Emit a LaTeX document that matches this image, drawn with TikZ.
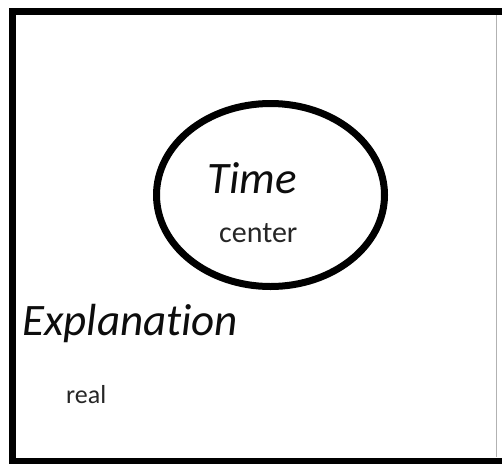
\documentclass[tikz,border=0pt]{standalone}
\usepackage{fontspec}
\setmainfont{Carlito}[Ligatures=NoCommon]
\usetikzlibrary{shapes.geometric}
\tikzset{
  frameline/.style={line width=7pt, draw=black},
  ringline/.style={line width=7pt, draw=black},
  bigtext/.style={inner sep=0pt, anchor=base west, font=\fontsize{45}{50}\selectfont\itshape, text=black!95},
  smalltext/.style={inner sep=0pt, anchor=base west, text=black!85}
}
\begin{document}
\begin{tikzpicture}[x=1pt,y=-1pt]
\useasboundingbox (0,0) rectangle (502,463);
\clip (0,0) rectangle (502,463);
\fill[white] (0,0) rectangle (502,463);
\draw[frameline] (12.5,11.5) rectangle (520,461);
\draw[draw=black!30, line width=1pt] (496,15) -- (496,457);
\node[ringline, ellipse, minimum width=228pt, minimum height=183pt, inner sep=0pt] (ring) at (270.5,195) {};
\node[bigtext] (time) at (207,193) {Time};
\node[smalltext, font=\fontsize{30}{36}\selectfont] (center) at (219,242) {center};
\node[bigtext] (expl) at (22,335) {Explanation};
\node[smalltext, font=\fontsize{26}{32}\selectfont] (real) at (66,403) {real};
\end{tikzpicture}
\end{document}
